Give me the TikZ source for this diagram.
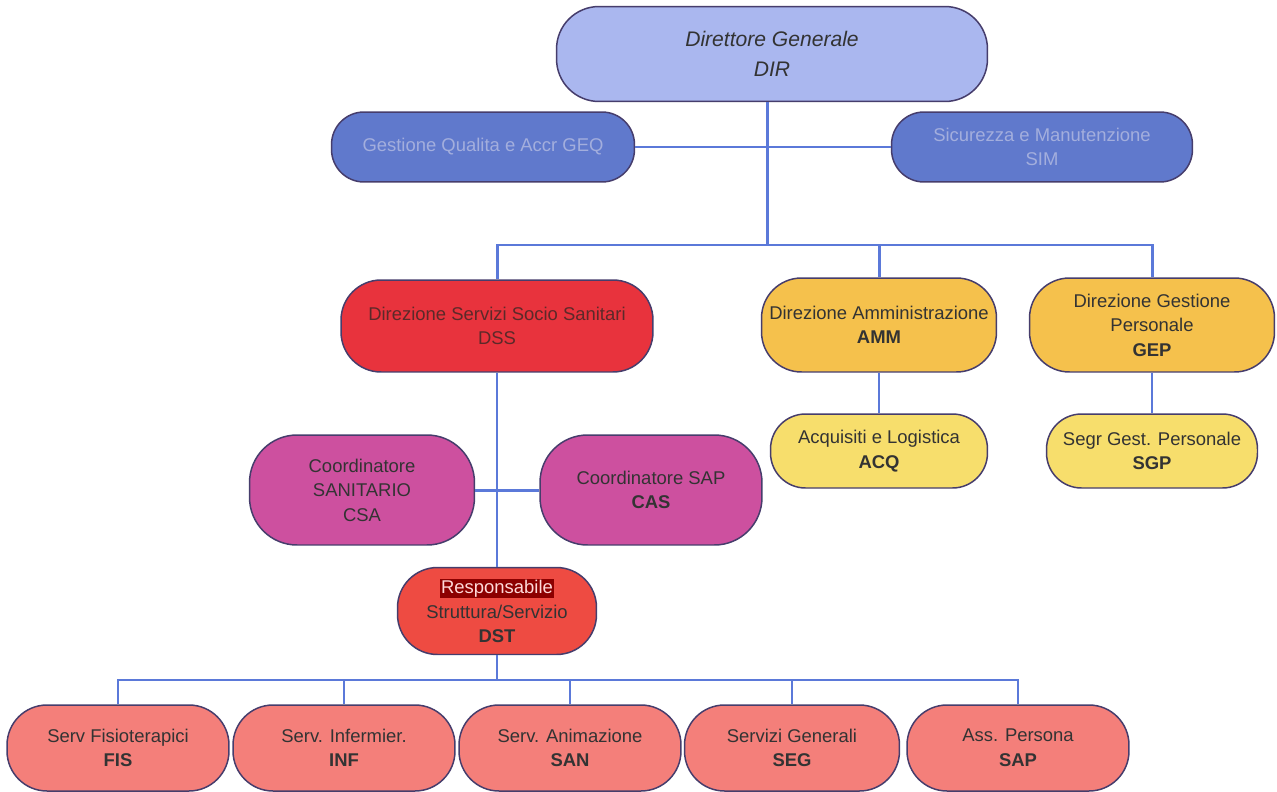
\documentclass[tikz,border=0pt]{standalone}
\usepackage{fontspec}
\setmainfont{Liberation Sans}
\definecolor{dirfill}{HTML}{AAB7EF}
\definecolor{stafffill}{HTML}{6079CC}
\definecolor{stafftext}{HTML}{A3AEDD}
\definecolor{dssfill}{HTML}{E8333D}
\definecolor{dirofill}{HTML}{F5C14C}
\definecolor{subfill}{HTML}{F7DE6C}
\definecolor{coordfill}{HTML}{CD509F}
\definecolor{dstfill}{HTML}{EE4B42}
\definecolor{servfill}{HTML}{F47F7A}
\definecolor{boxline}{HTML}{463D6C}
\definecolor{linkblue}{HTML}{5B79D9}
\definecolor{txt}{HTML}{333333}
\begin{document}
\begin{tikzpicture}[x=0.02cm, y=-0.02cm,
    unit/.style={draw=boxline, line width=0.85pt, rounded corners=0.8cm, align=center,
        text=txt, font=\fontsize{10.5}{14}\selectfont, inner sep=2pt},
    link/.style={draw=linkblue, line width=1.7pt},
    thinlink/.style={draw=linkblue, line width=0.9pt}]
    \useasboundingbox[fill=white] (0,0) rectangle (1277,791);

    % Nodes
    \node[unit, fill=dirfill, minimum width=8.62cm, minimum height=1.9cm, rounded corners=0.85cm,
        font=\fontsize{12}{17}\selectfont\itshape] (dir) at (772,54) {Direttore Generale\\DIR};
    \node[unit, fill=stafffill, text=stafftext, minimum width=6.06cm, minimum height=1.4cm, rounded corners=0.65cm] (geq) at (483,147) {Gestione Qualita e Accr GEQ};
    \node[unit, fill=stafffill, text=stafftext, minimum width=6.02cm, minimum height=1.4cm, rounded corners=0.65cm] (sim) at (1042,147) {Sicurezza e Manutenzione\\SIM};

    \node[unit, fill=dssfill, text=txt!80!red, minimum width=6.24cm, minimum height=1.84cm] (dss) at (497,326) {Direzione Servizi Socio Sanitari\\DSS};
    \node[unit, fill=dirofill, minimum width=4.7cm, minimum height=1.88cm] (amm) at (879,325) {Direzione Amministrazione\\\textbf{AMM}};
    \node[unit, fill=dirofill, minimum width=4.9cm, minimum height=1.88cm] (gep) at (1152,325) {Direzione Gestione\\Personale\\\textbf{GEP}};

    \node[unit, fill=subfill, minimum width=4.34cm, minimum height=1.48cm, rounded corners=0.7cm] (acq) at (879,451) {Acquisiti e Logistica\\\textbf{ACQ}};
    \node[unit, fill=subfill, minimum width=4.22cm, minimum height=1.48cm, rounded corners=0.7cm] (sgp) at (1152,451) {Segr Gest. Personale\\\textbf{SGP}};

    \node[unit, fill=coordfill, minimum width=4.5cm, minimum height=2.2cm, rounded corners=0.95cm] (csa) at (362,490) {Coordinatore\\SANITARIO\\CSA};
    \node[unit, fill=coordfill, minimum width=4.44cm, minimum height=2.2cm, rounded corners=0.95cm] (cas) at (651,490) {Coordinatore SAP\\\textbf{CAS}};

    \node[unit, fill=dstfill, minimum width=3.98cm, minimum height=1.74cm] (dst) at (497,611) {{\setlength{\fboxsep}{0.5pt}\colorbox{red!55!black}{\color{red!15!white}Responsabile}}\\Struttura/Servizio\\\textbf{DST}};

    \node[unit, fill=servfill, minimum width=4.44cm, minimum height=1.72cm] (fis) at (118,748) {Serv Fisioterapici\\\textbf{FIS}};
    \node[unit, fill=servfill, minimum width=4.44cm, minimum height=1.72cm] (inf) at (344,748) {Serv. Infermier.\\\textbf{INF}};
    \node[unit, fill=servfill, minimum width=4.44cm, minimum height=1.72cm] (san) at (570,748) {Serv. Animazione\\\textbf{SAN}};
    \node[unit, fill=servfill, minimum width=4.3cm, minimum height=1.72cm] (seg) at (792,748) {Servizi Generali\\\textbf{SEG}};
    \node[unit, fill=servfill, minimum width=4.44cm, minimum height=1.72cm] (sap) at (1018,748) {Ass. Persona\\\textbf{SAP}};

    % Junctions
    \coordinate (topbus) at (767,245);
    \coordinate (lowbus) at (497,680);

    % Lines
    \draw[link] (geq.east) -- (sim.west);
    \draw[link] (dir.south -| topbus) -- (topbus);
    \draw[link] (dss.north) |- (gep.north |- topbus) -- (gep.north);
    \draw[link] (amm.north |- topbus) -- (amm.north);
    \draw[thinlink] (amm.south) -- (acq.north);
    \draw[thinlink] (gep.south) -- (sgp.north);
    \draw[thinlink] (dss.south) -- (dst.north);
    \draw[link] (csa.east) -- (cas.west);
    \draw[thinlink] (dst.south) -- (lowbus);
    \draw[thinlink] (fis.north) |- (lowbus) -| (sap.north);
    \foreach \n in {inf, san, seg}
        \draw[thinlink] (\n.north) -- (\n.north |- lowbus);
\end{tikzpicture}
\end{document}
